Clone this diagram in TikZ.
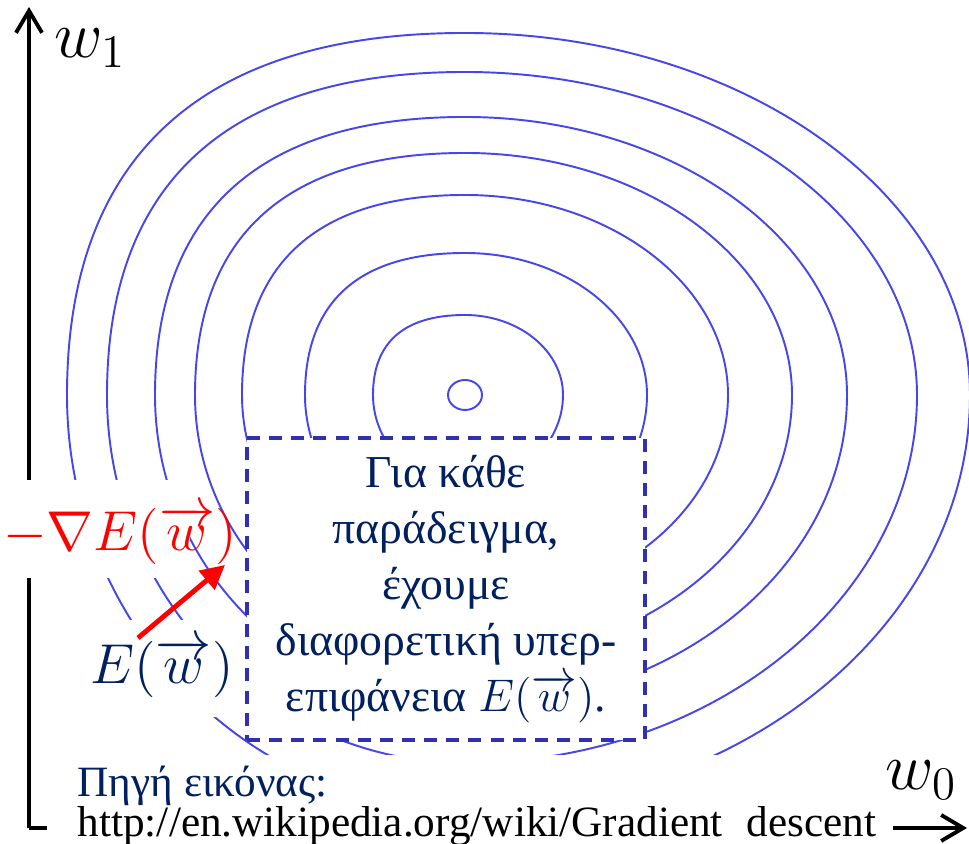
\RequirePackage{fix-cm}
\documentclass[tikz,border=0pt]{standalone}
\usepackage{fontspec}
\setmainfont{Liberation Serif}
\usepackage{amsmath}
\usepackage{tikz}
\usetikzlibrary{
  arrows.meta,
  positioning
}
\definecolor{navy}{RGB}{0,32,96}
\definecolor{ctblue}{RGB}{70,70,235}
\definecolor{boxblue}{RGB}{48,48,176}

\begin{document}
\begin{tikzpicture}[
			ct/.style={draw=ctblue, line width=0.55pt},
			ax/.style={line width=1.1pt, -{Straight Barb[length=2.2mm,width=2.6mm]}},
			nb/.style={draw=boxblue, dash pattern=on 3.7pt off 2.6pt, line width=0.95pt,
				fill=white, text=navy, align=center, minimum width=3.98cm,
				minimum height=3.02cm, inner sep=2pt, font=\fontsize{13}{15.9}\selectfont},
			ga/.style={red, line width=1.4pt, -{Triangle[length=2.4mm,width=2.4mm]}},
			lb/.style={inner sep=0pt, font=\fontsize{16}{19}\selectfont},
			msk/.style={fill=white}
			]
			\useasboundingbox (0,0) rectangle (9.69,8.44);
			% level curves of the error surface
			\foreach \lx/\ty/\rx/\by in {0.92/0.80/0.98/0.90, 1.60/1.42/1.82/1.55,
				2.23/2.00/2.63/2.10, 2.70/2.42/3.27/2.65, 3.10/2.78/3.82/3.12,
				3.58/3.23/4.52/3.68, 3.98/3.62/5.05/4.15}
			\draw[ct] ({4.65-\lx},4.49)
				.. controls ({4.65-\lx},{4.49+0.66*\ty}) and ({4.65-0.66*\lx},{4.49+\ty}) .. (4.65,{4.49+\ty})
				.. controls ({4.65+0.55*\rx},{4.49+\ty}) and ({4.65+\rx},{4.49+0.55*\ty}) .. ({4.65+\rx},4.49)
				.. controls ({4.65+\rx},{4.49-0.55*\by}) and ({4.65+0.55*\rx},{4.49-\by}) .. (4.65,{4.49-\by})
				.. controls ({4.65-0.55*\lx},{4.49-\by}) and ({4.65-\lx},{4.49-0.55*\by}) .. cycle;
			\draw[ct] (4.65,4.49) ellipse [x radius=0.17, y radius=0.15];
			% axes
			\coordinate (o) at (0.29,0.16);
			\coordinate (ytop) at (0.29,8.37);
			\coordinate (xend) at (9.67,0.16);
			\draw[ax] (o) -- (ytop);
			\draw[ax] (o) -- (xend);
			% white patches behind the labels
			\fill[msk] (0,2.66) rectangle (1.90,3.64);
			\fill[msk] (0.50,1.27) rectangle (2.47,2.24);
			\fill[msk] (0.47,0) rectangle (8.93,0.89);
			\node[lb, font=\fontsize{19}{22}\selectfont] (w1) at (0.90,7.96) {$w_1$};
			\node[lb, font=\fontsize{19}{22}\selectfont] (w0) at (9.21,0.64) {$w_0$};
			\node[nb] (note) at (4.46,2.55)
			{Για κάθε\\ παράδειγμα,\\ έχουμε\\ διαφορετική υπερ-\\
				επιφάνεια $E(\overrightarrow{w})$.};
			\node[lb, text=red] (grad) at (1.20,3.09) {$-\nabla E(\overrightarrow{w})$};
			\node[lb, text=navy] (ew) at (1.62,1.76) {$E(\overrightarrow{w})$};
			\node[lb, anchor=north west, align=left, font=\fontsize{12.3}{11.6}\selectfont] (src)
			at (0.77,0.79)
			{\textcolor{navy}{Πηγή εικόνας:}\\ http://en.wikipedia.org/wiki/Gradient\hspace{0.55em}descent};
			\coordinate (a0) at (1.38,2.06);
			\coordinate (a1) at (2.25,2.79);
			\draw[ga] (a0) -- (a1);
	\end{tikzpicture}
\end{document}
